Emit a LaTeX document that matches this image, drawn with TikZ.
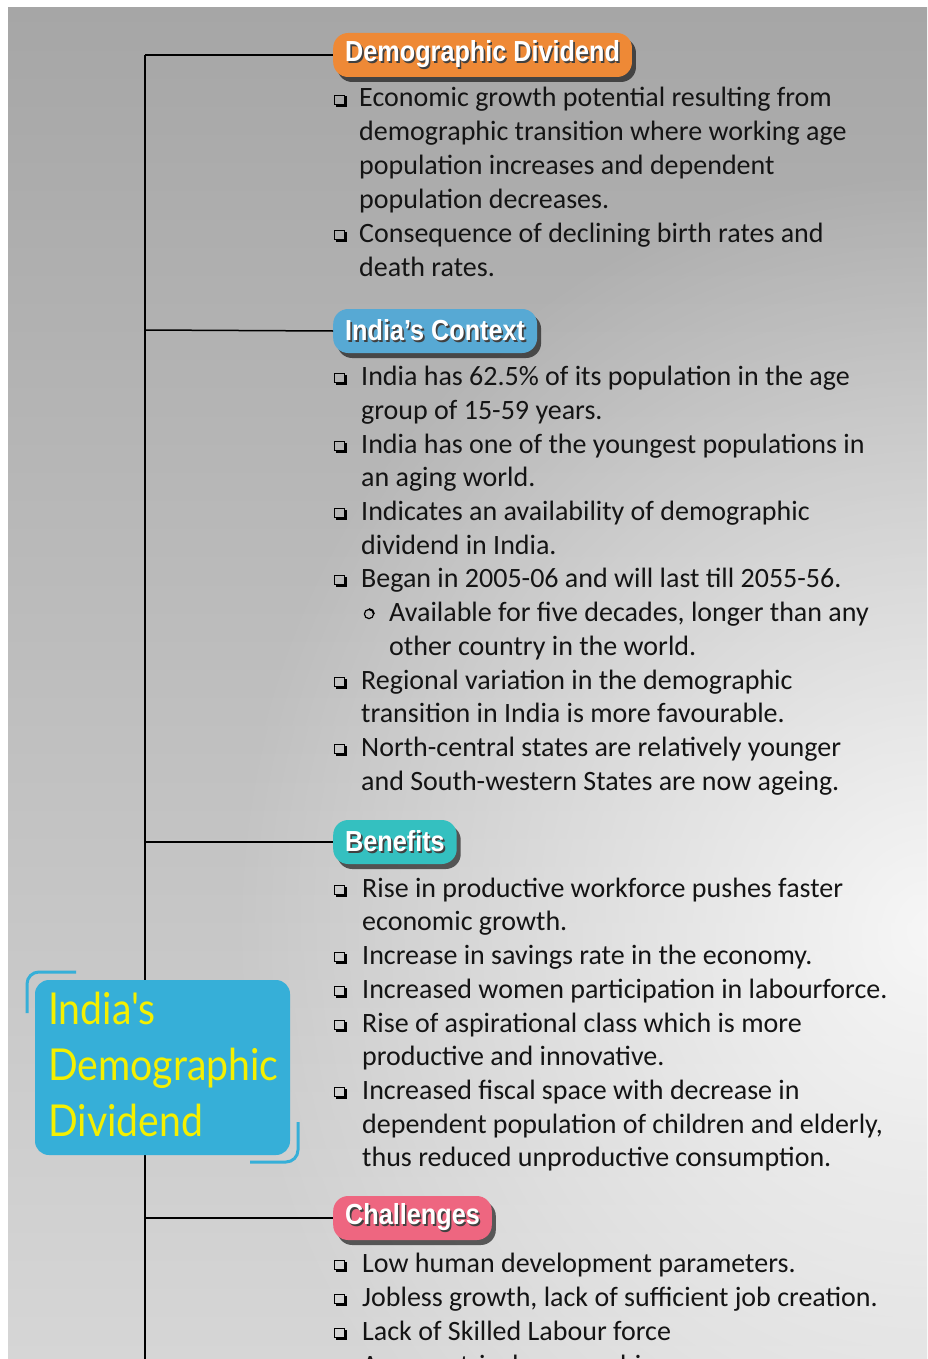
\documentclass[tikz,border=0pt]{standalone}
\usepackage{fontspec}
\setmainfont{Carlito}
\newfontfamily\hdrfont[FakeStretch=0.87]{Liberation Sans}
\newfontfamily\boxfont[FakeStretch=0.89]{Lato}
\usetikzlibrary{shadows,fadings}
\definecolor{bgtop}{RGB}{166,166,166}
\definecolor{bgbot}{RGB}{214,214,214}
\definecolor{cOrange}{RGB}{238,137,54}
\definecolor{cBlue}{RGB}{87,169,212}
\definecolor{cTeal}{RGB}{52,192,192}
\definecolor{cPink}{RGB}{238,102,128}
\definecolor{cBox}{RGB}{54,175,216}
\definecolor{cYellow}{RGB}{245,240,0}
\definecolor{txtcol}{RGB}{20,20,20}
\tikzfading[name=glow, inner color=transparent!15, outer color=transparent!100]
\newcommand\shtext[1]{\rlap{\raisebox{-1.6pt}{\hspace{1.6pt}\color{black!75}#1}}#1}
\tikzset{
  conn/.style={line width=1.5pt, black},
  pill/.style={rounded corners=15pt, minimum height=44pt, inner xsep=12pt, inner ysep=0pt,
    anchor=west, text=white, font=\hdrfont\bfseries\fontsize{29}{30}\selectfont,
    drop shadow={shadow xshift=4pt, shadow yshift=-5pt, opacity=0.6, fill=black}},
  txt/.style={anchor=base west, inner sep=0pt, text=txtcol, font=\fontsize{28}{34}\selectfont},
  boxtxt/.style={anchor=base west, inner sep=0pt, text=cYellow, font=\boxfont\fontsize{44}{56}\selectfont},
  deco/.style={cBox, line width=3pt, rounded corners=12pt},
  sqbullet/.pic={
    \draw[line width=1pt, black] (-4.8,-4.8) rectangle (4.8,4.8);
    \draw[line width=2.2pt, black] (-3.5,5.9) -- (5.9,5.9) -- (5.9,-3.5);
  },
  cbullet/.pic={
    \draw[line width=1.2pt, black] (0,0) circle (4.6);
    \draw[line width=1.8pt, black] (5,0) arc (0:-90:5);
  }
}
\newcommand\tx{359}
% bullet line: name, mid y, text
\newcommand\bl[3]{\pic at (339.5,#2+2) {sqbullet}; \node[txt] (#1) at (\tx,#2+9) {#3};}
% continuation line
\newcommand\cl[3]{\node[txt] (#1) at (\tx,#2+9) {#3};}
\begin{document}
\begin{tikzpicture}[x=1pt,y=-1pt]
\useasboundingbox (0,0) rectangle (927,1359);
\fill[white] (0,0) rectangle (927,1359);
\begin{scope}
\clip (8,8) rectangle (927,1359);
\shade[top color=bgtop, bottom color=bgbot] (8,8) rectangle (927,1359);
\fill[white, path fading=glow] (930,930) ellipse [x radius=700, y radius=760];

% trunk and branches
\coordinate (tr0) at (145,55);
\coordinate (tr5) at (145,1359);
\coordinate (b1) at (145,55);
\coordinate (b2) at (145,330);
\coordinate (b3) at (145,842);
\coordinate (b4) at (145,1218);
\draw[conn] (tr0) -- (tr5);

% central box
\node[fill=cBox, rounded corners=14pt, minimum width=255pt, minimum height=175pt, inner sep=0pt] (main) at (162.5,1067.5) {};
\draw[deco] (27,1013) -- (27,972) -- (76,972);
\draw[deco] (298,1122) -- (298,1162) -- (250,1162);
\node[boxtxt] (t1) at (48,1024) {India's};
\node[boxtxt] (t2) at (48,1080) {Demographic};
\node[boxtxt] (t3) at (48,1136) {Dividend};

% headers
\node[pill, fill=cOrange] (p1) at (333,55) {\shtext{Demographic Dividend}};
\node[pill, fill=cBlue] (p2) at (333,331) {\shtext{India’s Context}};
\node[pill, fill=cTeal] (p3) at (333,842) {\shtext{Benefits}};
\node[pill, fill=cPink] (p4) at (333,1218) {\shtext{Challenges}};
\draw[conn] (b1) -- (p1.west);
\draw[conn] (b2) -- (p2.west);
\draw[conn] (b3) -- (p3.west);
\draw[conn] (b4) -- (p4.west);

% section 1
\bl{a1}{98}{Economic growth potential resulting from}
\cl{a2}{132}{demographic transition where working age}
\cl{a3}{166}{population increases and dependent}
\cl{a4}{199}{population decreases.}
\bl{a5}{233}{Consequence of declining birth rates and}
\cl{a6}{267}{death rates.}

\renewcommand\tx{361}
% section 2
\bl{c1}{376}{India has 62.5\% of its population in the age}
\cl{c2}{410}{group of 15-59 years.}
\bl{c3}{444}{India has one of the youngest populations in}
\cl{c4}{477}{an aging world.}
\bl{c5}{511}{Indicates an availability of demographic}
\cl{c6}{545}{dividend in India.}
\bl{c7}{578}{Began in 2005-06 and will last till 2055-56.}
\pic at (369,614) {cbullet};
\node[txt] (c8) at (389,621) {Available for five decades, longer than any};
\node[txt] (c9) at (389,655) {other country in the world.};
\bl{c10}{680}{Regional variation in the demographic}
\cl{c11}{713}{transition in India is more favourable.}
\bl{c12}{747}{North-central states are relatively younger}
\cl{c13}{781}{and South-western States are now ageing.}

\renewcommand\tx{362}
% section 3
\bl{e1}{888}{Rise in productive workforce pushes faster}
\cl{e2}{921}{economic growth.}
\bl{e3}{955}{Increase in savings rate in the economy.}
\bl{e4}{989}{Increased women participation in labourforce.}
\bl{e5}{1023}{Rise of aspirational class which is more}
\cl{e6}{1056}{productive and innovative.}
\bl{e7}{1090}{Increased fiscal space with decrease in}
\cl{e8}{1124}{dependent population of children and elderly,}
\cl{e9}{1157}{thus reduced unproductive consumption.}

% section 4
\bl{g1}{1263}{Low human development parameters.}
\bl{g2}{1297}{Jobless growth, lack of sufficient job creation.}
\bl{g3}{1331}{Lack of Skilled Labour force}
\bl{g4}{1365}{Asymmetric demographic}
\end{scope}
\end{tikzpicture}
\end{document}
